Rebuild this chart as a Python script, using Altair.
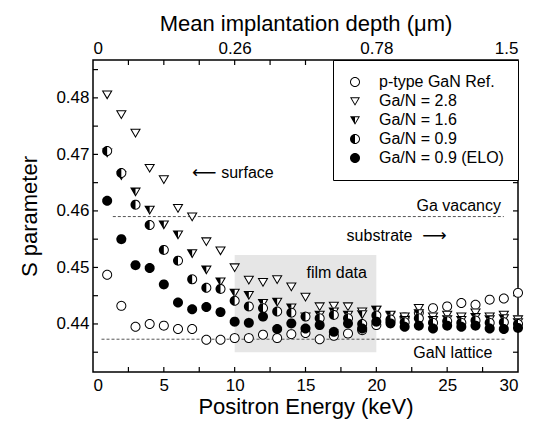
import math
import altair as alt
import pandas as pd

# ---------------- data ----------------
energy = list(range(1, 31))  # positron energy, keV

s_ref = [0.4487, 0.4432, 0.4395, 0.4400, 0.4397, 0.4391, 0.4391, 0.4372, 0.4372, 0.4375,
         0.4375, 0.4381, 0.4375, 0.4382, 0.4384, 0.4373, 0.4379, 0.4383, 0.4389, 0.4398,
         0.4405, 0.4412, 0.4420, 0.4428, 0.4431, 0.4437, 0.4434, 0.4443, 0.4445, 0.4455]
s_28 = [0.4806, 0.4771, 0.4738, 0.4676, 0.4656, 0.4605, 0.4590, 0.4546, 0.4530, 0.4500,
        0.4478, 0.4474, 0.4479, 0.4466, 0.4448, 0.4431, 0.4432, 0.4431, 0.4422, 0.4425,
        0.4415, 0.4413, 0.4428, 0.4413, 0.4416, 0.4413, 0.4420, 0.4413, 0.4416, 0.4408]
s_16 = [0.4703, 0.4663, 0.4634, 0.4602, 0.4576, 0.4558, 0.4525, 0.4496, 0.4475, 0.4455,
        0.4451, 0.4437, 0.4439, 0.4429, 0.4413, 0.4416, 0.4422, 0.4416, 0.4417, 0.4425,
        0.4416, 0.4407, 0.4419, 0.4407, 0.4408, 0.4407, 0.4412, 0.4408, 0.4410, 0.4403]
s_09 = [0.4706, 0.4667, 0.4611, 0.4575, 0.4531, 0.4512, 0.4479, 0.4464, 0.4462, 0.4441,
        0.4431, 0.4428, 0.4422, 0.4420, 0.4413, 0.4410, 0.4416, 0.4410, 0.4400, 0.4415,
        0.4408, 0.4403, 0.4410, 0.4402, 0.4405, 0.4402, 0.4406, 0.4402, 0.4403, 0.4400]
s_elo = [0.4618, 0.4550, 0.4504, 0.4499, 0.4470, 0.4438, 0.4426, 0.4430, 0.4421, 0.4404,
         0.4402, 0.4413, 0.4391, 0.4401, 0.4392, 0.4398, 0.4386, 0.4401, 0.4392, 0.4404,
         0.4401, 0.4395, 0.4397, 0.4392, 0.4397, 0.4395, 0.4397, 0.4392, 0.4391, 0.4393]

series_names = ["p-type GaN Ref.", "Ga/N = 2.8", "Ga/N = 1.6", "Ga/N = 0.9", "Ga/N = 0.9 (ELO)"]
series_values = [s_ref, s_28, s_16, s_09, s_elo]

x_ticks_major = [0, 5, 10, 15, 20, 25, 30]
x_ticks_minor = [2.5, 5, 7.5, 10, 12.5, 15, 17.5, 20, 22.5, 25, 27.5]
top_tick_values = [0, 10, 20, 30]
top_tick_labels = ["0", "0.26", "0.78", "1.5"]
y_label_values = [0.44, 0.45, 0.46, 0.47, 0.48]
y_ticks_minor = [0.435, 0.44, 0.445, 0.45, 0.455, 0.46, 0.465, 0.47, 0.475, 0.48, 0.485]

# reference levels and film-data band
ref_names = ["Ga vacancy", "GaN lattice"]
ref_levels = [0.4590, 0.4373]
ref_from = [1.4, 0.6]
ref_to = [29.0, 29.1]
film_band = {"x": 10, "x2": 20, "y": 0.4522, "y2": 0.4350}

# ---------------- symbol paths ----------------
def poly(pts):
    return "M" + " L".join(f"{x:.3f},{y:.3f}" for x, y in pts) + " Z"

N = 36
circle_outer = [(math.cos(2 * math.pi * i / N), math.sin(2 * math.pi * i / N)) for i in range(N)]
rc = 0.80
circle_inner = [(rc * x, rc * y) for x, y in reversed(circle_outer)]
half_left = [(math.cos(a), math.sin(a)) for a in
             [math.pi / 2 + math.pi * i / (N // 2) for i in range(N // 2 + 1)]]

tri_outer = [(-1.0, -0.75), (1.0, -0.75), (0.0, 0.95)]
inc_y, r_in, t_tri = -0.178, 0.572, 0.19
k = (r_in - t_tri) / r_in
tri_inner = [(x * k, inc_y + (y - inc_y) * k) for x, y in reversed(tri_outer)]
tri_half = [(-1.0, -0.75), (0.0, -0.75), (0.0, 0.95)]

open_circle = poly(circle_outer) + " " + poly(circle_inner)
full_circle = poly(circle_outer)
half_circle = open_circle + " " + poly(half_left)
open_tri = poly(tri_outer) + " " + poly(tri_inner)
full_tri = poly(tri_outer)
half_tri = open_tri + " " + poly(tri_half)

overlay_paths = [open_circle, open_tri, half_tri, half_circle, full_circle]
underlay_paths = [full_circle, full_tri, full_tri, full_circle, None]
sizes = [100, 118, 118, 100, 100]

rows = []
for name, vals in zip(series_names, series_values):
    for e, s in zip(energy, vals):
        rows.append({"E": e, "S": s, "series": name})
df = pd.DataFrame(rows)

FONT = "Liberation Sans"
W, H = 425, 312
xs = alt.Scale(domain=[0, 30], nice=False)
ys = alt.Scale(domain=[0.4315, 0.4867], nice=False, zero=False)

label_expr = " : ".join(f"datum.value == {v} ? '{l}'" for v, l in zip(top_tick_values, top_tick_labels)) + " : ''"

# ---------------- layers ----------------
band = alt.Chart(pd.DataFrame([film_band])).mark_rect(color="#e6e6e6").encode(
    x=alt.X("x:Q", scale=xs, axis=alt.Axis(values=x_ticks_major, title="Positron Energy (keV)",
                                           orient="bottom", labelPadding=5, titlePadding=3)),
    x2="x2:Q",
    y=alt.Y("y:Q", scale=ys, axis=alt.Axis(values=y_label_values, format=".2f", title="S parameter",
                                           orient="left", labelPadding=4, titlePadding=14)),
    y2="y2:Q",
)

ref_df = pd.DataFrame({"name": ref_names, "S": ref_levels, "x1": ref_from, "x2": ref_to})
ref_lines = alt.Chart(ref_df).mark_rule(color="#555555", strokeDash=[3, 2], strokeWidth=1).encode(
    x=alt.X("x1:Q", scale=xs, axis=alt.Axis(values=top_tick_values, labelExpr=label_expr, orient="top",
                                            title="Mean implantation depth (μm)", labelPadding=3,
                                            titlePadding=4)),
    x2="x2:Q",
    y=alt.Y("S:Q", scale=ys, axis=None),
)

tx = pd.DataFrame({"t": x_ticks_minor})
ty = pd.DataFrame({"t": y_ticks_minor})
tick_bottom = alt.Chart(tx).mark_rule(color="black", strokeWidth=1.2).encode(
    x=alt.X("t:Q", scale=xs, axis=None), y=alt.value(H), y2=alt.value(H - 5))
tick_top = alt.Chart(tx).mark_rule(color="black", strokeWidth=1.2).encode(
    x=alt.X("t:Q", scale=xs, axis=None), y=alt.value(0), y2=alt.value(5))
tick_left = alt.Chart(ty).mark_rule(color="black", strokeWidth=1.2).encode(
    y=alt.Y("t:Q", scale=ys, axis=None), x=alt.value(0), x2=alt.value(5))
tick_right = alt.Chart(ty).mark_rule(color="black", strokeWidth=1.2).encode(
    y=alt.Y("t:Q", scale=ys, axis=None), x=alt.value(W), x2=alt.value(W - 5))

legend = alt.Legend(title=None, orient="top-right", offset=0, padding=14, strokeColor="black",
                    fillColor="white", labelFont=FONT, labelFontSize=16, labelOffset=16,
                    rowPadding=3, symbolSize=100, symbolFillColor="black", symbolStrokeWidth=0,
                    symbolOpacity=1, labelColor="black")

series_layers = []
for name, under, size in zip(series_names, underlay_paths, sizes):
    base = alt.Chart(df).transform_filter(alt.datum.series == name)
    if under is not None:
        series_layers.append(base.mark_point(shape=under, filled=True, fill="white", strokeWidth=0,
                                             opacity=1, size=size).encode(
            x=alt.X("E:Q", scale=xs, axis=None), y=alt.Y("S:Q", scale=ys, axis=None)))
    series_layers.append(base.mark_point(filled=True, fill="black", strokeWidth=0, opacity=1,
                                         size=size).encode(
        x=alt.X("E:Q", scale=xs, axis=None), y=alt.Y("S:Q", scale=ys, axis=None),
        shape=alt.Shape("series:N", scale=alt.Scale(domain=series_names, range=overlay_paths),
                        legend=legend)))

# annotations (data coordinates)
ann_left = pd.DataFrame({"E": [9.05, 17.9], "S": [0.4667, 0.4555], "t": ["surface", "substrate"]})
ann_center = pd.DataFrame({"E": [17.2, 25.4], "S": [0.4491, 0.4348], "t": ["film data", "GaN lattice"]})
ann_right = pd.DataFrame({"E": [28.8], "S": [0.4608], "t": ["Ga vacancy"]})
arrows = pd.DataFrame({"E": [7.85, 24.1], "S": [0.4667, 0.4555], "t": ["⟵", "⟶"]})

def text_layer(d, align, font=FONT, size=16):
    return alt.Chart(d).mark_text(align=align, baseline="middle", font=font, fontSize=size,
                                  color="black").encode(
        x=alt.X("E:Q", scale=xs, axis=None), y=alt.Y("S:Q", scale=ys, axis=None), text="t:N")

texts = [text_layer(ann_left, "left"), text_layer(ann_center, "center"),
         text_layer(ann_right, "right"), text_layer(arrows, "center", font="DejaVu Sans", size=17)]

chart = alt.layer(band, ref_lines, tick_bottom, tick_top, tick_left, tick_right,
                  *series_layers, *texts).resolve_axis(x="independent", y="independent").properties(
    width=W, height=H,
    background="white",
    autosize=alt.AutoSizeParams(type="none"),
    padding={"left": 85, "top": 52, "right": 13, "bottom": 51},
).configure_view(stroke="black", strokeWidth=1.5).configure_axis(
    grid=False, domain=False, ticks=False, labelFont=FONT, titleFont=FONT, labelFontSize=17,
    titleFontSize=22, titleFontWeight="normal", labelColor="black", titleColor="black",
)

chart.save("out.html", embed_options={"renderer": "svg", "actions": False})
